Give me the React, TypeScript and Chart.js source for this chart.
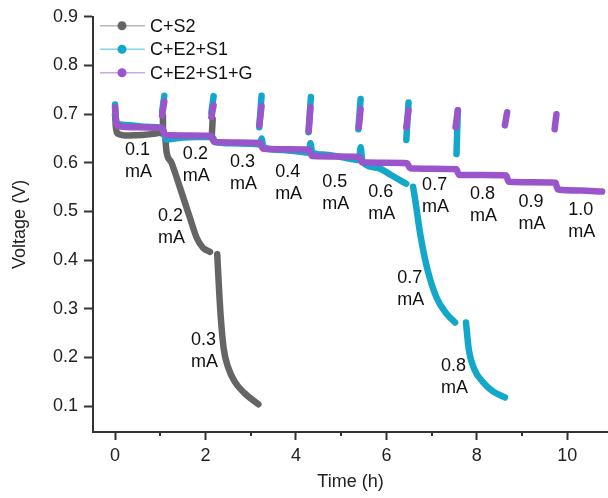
import { useEffect, useRef } from "react";
import { Chart, registerables } from "chart.js";

Chart.register(...registerables);

const FONT = "'Liberation Sans', Arial, Helvetica, sans-serif";

const seriesNames = ["C+S2", "C+E2+S1", "C+E2+S1+G"];
const seriesColors = ["#656565", "#13a7c9", "#9b55ca"];
const legendLineColors = ["#b9b9b9", "#86d4e7", "#cba6e4"];

// ---- C+S2 (discharge), null = break between steps
const grayTime = [0.0, 0.02, 0.06, 0.3, 0.6, 0.9, 1.02, 1.1, 1.14, 1.25, 1.44, 1.66, 1.81, 1.95, 2.1, 2.18, 2.26, 2.3, 2.34, 2.4, 2.5, 2.65, 2.85, 3.17];
const grayVolt = [0.7, 0.672, 0.66, 0.656, 0.657, 0.66, 0.662, 0.657, 0.622, 0.6, 0.548, 0.486, 0.445, 0.425, 0.417, null, 0.412, 0.34, 0.28, 0.22, 0.18, 0.15, 0.128, 0.104];
// rest segments (start -> end)
const grayRestT0 = [1.04, 2.14];
const grayRestT1 = [1.06, 2.16];
const grayRestV0 = [0.66, 0.657];
const grayRestV1 = [0.696, 0.69];

// ---- C+E2+S1
const cyanTime = [0, 0.02, 0.06, 0.3, 0.7, 1.0, 1.05, 1.09, 1.12, 1.4, 1.8, 2.13, 2.17, 2.21, 2.6, 3.0, 3.21, 3.24, 3.28, 3.6, 4.0, 4.29, 4.32, 4.36, 4.6, 5.0, 5.4, 5.43, 5.47, 5.8, 6.1, 6.44, 6.5, 6.59, 6.64, 6.75, 6.9, 7.11, 7.34, 7.52, 7.64, 7.76, 7.82, 7.95, 8.15, 8.35, 8.62];
const cyanVolt = [0.72, 0.69, 0.68, 0.677, 0.674, 0.672, 0.67, 0.66, 0.648, 0.651, 0.653, 0.653, 0.651, 0.643, 0.64, 0.639, 0.638, 0.65, 0.632, 0.627, 0.624, 0.621, 0.64, 0.621, 0.617, 0.612, 0.606, 0.632, 0.603, 0.59, 0.575, 0.557, null, 0.551, 0.522, 0.453, 0.384, 0.323, 0.289, 0.272, null, 0.272, 0.218, 0.175, 0.148, 0.131, 0.118];
const cyanRestT0 = [1.04, 2.13, 3.19, 4.28, 5.38, 6.44, 7.55];
const cyanRestT1 = [1.09, 2.18, 3.24, 4.33, 5.43, 6.49, 7.58];
const cyanRestV0 = [0.705, 0.703, 0.673, 0.663, 0.669, 0.647, 0.618];
const cyanRestV1 = [0.738, 0.737, 0.738, 0.735, 0.731, 0.724, 0.708];

// ---- C+E2+S1+G
const purpleTime = [0, 0.02, 0.05, 0.5, 1.0, 1.05, 1.09, 1.12, 1.6, 2.13, 2.16, 2.2, 2.7, 3.21, 3.24, 3.28, 3.8, 4.29, 4.32, 4.36, 4.9, 5.4, 5.43, 5.46, 6.0, 6.46, 6.49, 6.52, 7.0, 7.55, 7.58, 7.61, 8.1, 8.65, 8.68, 8.71, 9.2, 9.74, 9.77, 9.8, 10.3, 10.77];
const purpleVolt = [0.714, 0.69, 0.676, 0.673, 0.672, 0.671, 0.66, 0.657, 0.656, 0.655, 0.648, 0.643, 0.642, 0.641, 0.634, 0.629, 0.628, 0.627, 0.62, 0.614, 0.613, 0.612, 0.606, 0.601, 0.6, 0.599, 0.594, 0.589, 0.588, 0.587, 0.58, 0.575, 0.575, 0.574, 0.566, 0.561, 0.56, 0.559, 0.55, 0.545, 0.543, 0.541];
const purpleRestT0 = [1.04, 2.13, 3.19, 4.28, 5.39, 6.44, 7.53, 8.62, 9.72];
const purpleRestT1 = [1.09, 2.18, 3.24, 4.32, 5.43, 6.49, 7.58, 8.67, 9.76];
const purpleRestV0 = [0.697, 0.694, 0.677, 0.665, 0.673, 0.673, 0.673, 0.677, 0.669];
const purpleRestV1 = [0.726, 0.718, 0.716, 0.714, 0.71, 0.708, 0.708, 0.704, 0.7];

// ---- current labels
const annCurrent = ["0.1", "0.2", "0.3", "0.4", "0.5", "0.6", "0.7", "0.8", "0.9", "1.0", "0.2", "0.3", "0.7", "0.8"];
const annTime = [0.22, 1.5, 2.54, 3.54, 4.58, 5.6, 6.79, 7.85, 8.92, 10.02, 0.95, 1.68, 6.24, 7.21];
const annVolt = [0.6265, 0.6184, 0.602, 0.5816, 0.561, 0.541, 0.555, 0.535, 0.52, 0.502, 0.49, 0.235, 0.363, 0.182];

// ---- axes
const xTicks = [0, 1, 2, 3, 4, 5, 6, 7, 8, 9, 10];
const xTickLabels = ["0", "", "2", "", "4", "", "6", "", "8", "", "10"];
const yTicks = [0.1, 0.2, 0.3, 0.4, 0.5, 0.6, 0.7, 0.8, 0.9];
const yTickLabels = ["0.1", "0.2", "0.3", "0.4", "0.5", "0.6", "0.7", "0.8", "0.9"];

const toPoints = (t: number[], v: (number | null)[]) => t.map((x, i) => ({ x, y: v[i] }));
const restPoints = (t0: number[], t1: number[], v0: number[], v1: number[]) => {
  const pts: { x: number; y: number | null }[] = [];
  t0.forEach((x, i) => {
    if (i > 0) pts.push({ x: (t1[i - 1] + x) / 2, y: null });
    pts.push({ x, y: v0[i] });
    pts.push({ x: t1[i], y: v1[i] });
  });
  return pts;
};

const AXIS = "#333333";

const lineDs = (data: any[], color: string, order: number, smooth: boolean) => ({
  data,
  borderColor: color,
  backgroundColor: color,
  borderWidth: 6.5,
  borderCapStyle: "round" as const,
  borderJoinStyle: "round" as const,
  pointRadius: 0,
  spanGaps: false,
  fill: false,
  order,
  tension: smooth ? 0.3 : 0,
  cubicInterpolationMode: smooth ? ("monotone" as const) : ("default" as const),
});

const overlayPlugin = {
  id: "overlay",
  afterDatasetsDraw(chart: any) {
    const { ctx, chartArea, scales } = chart;
    const xs = scales.x;
    const ys = scales.y;
    ctx.save();
    // minor x ticks
    ctx.strokeStyle = AXIS;
    ctx.lineWidth = 2;
    xTicks.forEach((v, i) => {
      if (xTickLabels[i] !== "") return;
      const px = Math.round(xs.getPixelForValue(v));
      ctx.beginPath();
      ctx.moveTo(px, chartArea.bottom);
      ctx.lineTo(px, chartArea.bottom + 4);
      ctx.stroke();
    });
    // current labels
    ctx.font = `18px ${FONT}`;
    ctx.fillStyle = "#111111";
    ctx.textAlign = "left";
    ctx.textBaseline = "middle";
    annCurrent.forEach((c, i) => {
      const px = xs.getPixelForValue(annTime[i]);
      const py = ys.getPixelForValue(annVolt[i]);
      ctx.fillText(c, px, py);
      ctx.fillText("mA", px, py + 22);
    });
    // legend
    seriesNames.forEach((name, i) => {
      const yy = chartArea.top + 9 + i * 23.5;
      const lx = chartArea.left + 7;
      ctx.strokeStyle = legendLineColors[i];
      ctx.lineWidth = 1.5;
      ctx.beginPath();
      ctx.moveTo(lx, yy);
      ctx.lineTo(lx + 45, yy);
      ctx.stroke();
      ctx.fillStyle = seriesColors[i];
      ctx.beginPath();
      ctx.arc(lx + 22, yy, 4.5, 0, Math.PI * 2);
      ctx.fill();
      ctx.fillStyle = "#111111";
      ctx.fillText(name, lx + 50, yy + 1);
    });
    ctx.restore();
  },
};

export default function App() {
  const ref = useRef<HTMLCanvasElement | null>(null);
  useEffect(() => {
    if (!ref.current) return;
    const chart = new Chart(ref.current, {
      type: "line",
      data: {
        datasets: [
          lineDs(toPoints(grayTime, grayVolt), seriesColors[0], 3, true),
          lineDs(restPoints(grayRestT0, grayRestT1, grayRestV0, grayRestV1), seriesColors[0], 3, false),
          lineDs(toPoints(cyanTime, cyanVolt), seriesColors[1], 2, true),
          lineDs(restPoints(cyanRestT0, cyanRestT1, cyanRestV0, cyanRestV1), seriesColors[1], 2, false),
          lineDs(toPoints(purpleTime, purpleVolt), seriesColors[2], 1, true),
          lineDs(restPoints(purpleRestT0, purpleRestT1, purpleRestV0, purpleRestV1), seriesColors[2], 1, false),
        ] as any,
      },
      options: {
        responsive: false,
        animation: false,
        devicePixelRatio: 1,
        layout: { padding: { top: 14, left: 0, right: 0, bottom: 0 } },
        plugins: { legend: { display: false }, tooltip: { enabled: false } },
        scales: {
          x: {
            type: "linear",
            min: -0.487,
            max: 10.9,
            afterFit: (s: any) => {
              s.height = 66;
            },
            afterBuildTicks: (s: any) => {
              s.ticks = xTicks.map((value) => ({ value }));
            },
            ticks: {
              autoSkip: false,
              maxRotation: 0,
              padding: 5,
              color: "#222222",
              font: { family: FONT, size: 18 },
              callback: (_v: any, i: number) => xTickLabels[i],
            },
            grid: {
              display: true,
              drawOnChartArea: false,
              drawTicks: true,
              tickLength: 8,
              tickWidth: 2,
              tickColor: (c: any) => (c.tick && xTickLabels[c.index] === "" ? "rgba(0,0,0,0)" : AXIS),
            },
            border: { display: true, color: AXIS, width: 2 },
            title: {
              display: true,
              text: "Time (h)",
              color: "#222222",
              font: { family: FONT, size: 18 },
              padding: { top: 0, bottom: 5 },
            },
          },
          y: {
            type: "linear",
            min: 0.047,
            max: 0.9,
            afterFit: (s: any) => {
              s.width = 93;
            },
            afterBuildTicks: (s: any) => {
              s.ticks = yTicks.map((value) => ({ value }));
            },
            ticks: {
              autoSkip: false,
              padding: 6,
              color: "#222222",
              font: { family: FONT, size: 18 },
              callback: (_v: any, i: number) => yTickLabels[i],
            },
            grid: {
              display: true,
              drawOnChartArea: false,
              drawTicks: true,
              tickLength: 9,
              tickWidth: 2,
              tickColor: AXIS,
            },
            border: { display: true, color: AXIS, width: 2 },
            title: {
              display: true,
              text: "Voltage (V)",
              color: "#222222",
              font: { family: FONT, size: 18 },
              padding: { top: 9, bottom: 0 },
            },
          },
        },
      },
      plugins: [overlayPlugin],
    });
    return () => chart.destroy();
  }, []);
  return (
    <div style={{ position: "absolute", left: 0, top: 0, width: 608, height: 498 }}>
      <canvas ref={ref} width={608} height={498} />
    </div>
  );
}
